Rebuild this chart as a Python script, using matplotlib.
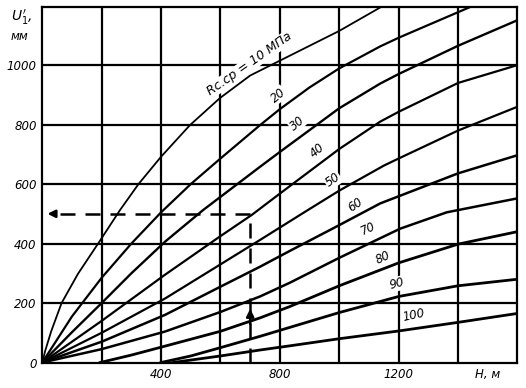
import numpy as np
import matplotlib
matplotlib.use('Agg')
import matplotlib.pyplot as plt

# curves U1'(H) for Rc.cp = 10 ... 100 MPa
h10 = [0, 10, 30, 65, 120, 188, 262, 324, 400, 497, 598, 700, 800, 900, 1000, 1140]
u10 = [0, 40, 105, 200, 298, 400, 513, 600, 692, 798, 889, 965, 1015, 1065, 1115, 1195]
h20 = [0, 100, 200, 300, 400, 500, 600, 733, 800, 900, 1000, 1138, 1200, 1300, 1440]
u20 = [0, 155, 285, 400, 505, 600, 686, 798, 852, 925, 989, 1063, 1092, 1135, 1195]
h30 = [0, 100, 200, 300, 413, 542, 600, 733, 800, 1000, 1138, 1200, 1400, 1600]
u30 = [0, 102, 200, 300, 406, 513, 557, 658, 708, 855, 938, 970, 1065, 1151]
h40 = [0, 200, 413, 600, 705, 800, 1000, 1138, 1200, 1400, 1600]
u40 = [0, 140, 295, 425, 496, 568, 718, 810, 843, 940, 1000]
h50 = [0, 200, 413, 600, 733, 890, 1000, 1150, 1200, 1400, 1600]
u50 = [0, 100, 215, 330, 412, 510, 578, 662, 686, 780, 860]
h60 = [0, 200, 413, 600, 733, 833, 1000, 1138, 1400, 1600]
u60 = [0, 70, 160, 255, 322, 375, 462, 535, 636, 697]
h70 = [0, 200, 413, 600, 733, 833, 1000, 1205, 1362, 1600]
u70 = [0, 45, 104, 170, 222, 268, 352, 450, 505, 552]
h80 = [195, 300, 413, 600, 733, 833, 1000, 1200, 1400, 1600]
u80 = [0, 25, 55, 105, 150, 188, 258, 335, 398, 440]
h90 = [400, 500, 600, 733, 833, 1000, 1200, 1400, 1600]
u90 = [0, 22, 50, 88, 118, 168, 222, 258, 280]
h100 = [440, 600, 733, 833, 1000, 1200, 1400, 1600]
u100 = [0, 22, 42, 56, 80, 106, 135, 165]

curves = [(h10, u10), (h20, u20), (h30, u30), (h40, u40), (h50, u50),
          (h60, u60), (h70, u70), (h80, u80), (h90, u90), (h100, u100)]
widths = [1.3, 1.6, 1.7, 1.6, 1.6, 1.8, 1.8, 2.0, 2.0, 2.0]

# curve labels
lab_text = ['20', '30', '40', '50', '60', '70', '80', '90', '100']
lab_h = [794, 858, 925, 979, 1053, 1097, 1147, 1194, 1251]
lab_u = [899, 805, 714, 613, 529, 449, 351, 264, 160]
lab_rot = [40, 40, 40, 35, 35, 25, 25, 15, 12]

# worked example
ex_h = 700
ex_u = 500

fig = plt.figure(figsize=(5.26, 3.88), dpi=100)
ax = fig.add_axes([0.0804, 0.0657, 0.9034, 0.916])
ax.set_xlim(0, 1600)
ax.set_ylim(0, 1195)

for y in range(200, 1200, 200):
    ax.axhline(y, color='black', lw=1.6, zorder=1)
for x in range(200, 1600, 200):
    ax.axvline(x, color='black', lw=1.6, zorder=1)
for s in ax.spines.values():
    s.set_linewidth(1.6)

for (h, u), w in zip(curves, widths):
    ax.plot(h, u, color='black', lw=w, zorder=3, solid_joinstyle='round')

bb = dict(facecolor='white', edgecolor='none', pad=0.5)
for t, x, y, r in zip(lab_text, lab_h, lab_u, lab_rot):
    ax.text(x, y, t, rotation=r, ha='center', va='center', fontsize=8.5,
            style='italic', bbox=bb, zorder=2)
ax.text(698, 1003, 'Rс.ср = 10 МПа', rotation=35, ha='center', va='center',
        fontsize=9, style='italic', bbox=bb, zorder=2)

# dashed example lines
ax.plot([ex_h, ex_h], [0, ex_u], color='black', lw=1.8, ls=(0, (6, 4)), zorder=4)
ax.plot([ex_h, 25], [ex_u, ex_u], color='black', lw=1.8, ls=(0, (6, 4)), zorder=4)
ax.annotate('', xy=(8, ex_u), xytext=(50, ex_u),
            arrowprops=dict(arrowstyle='-|>', color='black', lw=1.8, mutation_scale=11),
            zorder=4)
ax.annotate('', xy=(ex_h, 190), xytext=(ex_h, 120),
            arrowprops=dict(arrowstyle='-|>', color='black', lw=1.8, mutation_scale=11),
            zorder=4)

ax.set_yticks([0, 200, 400, 600, 800, 1000])
ax.set_yticklabels(['0', '200', '400', '600', '800', '1000'], style='italic', fontsize=8.5)
ax.set_xticks([400, 800, 1200, 1500])
ax.set_xticklabels(['400', '800', '1200', 'H, м'], style='italic', fontsize=8.5)
ax.tick_params(length=0, pad=4)

fig.text(0.02, 0.955, r"$U_1'$,", fontsize=10, style='italic', va='center')
fig.text(0.02, 0.905, 'мм', fontsize=8.5, style='italic', va='center')

fig.savefig('out.png', dpi=100)
